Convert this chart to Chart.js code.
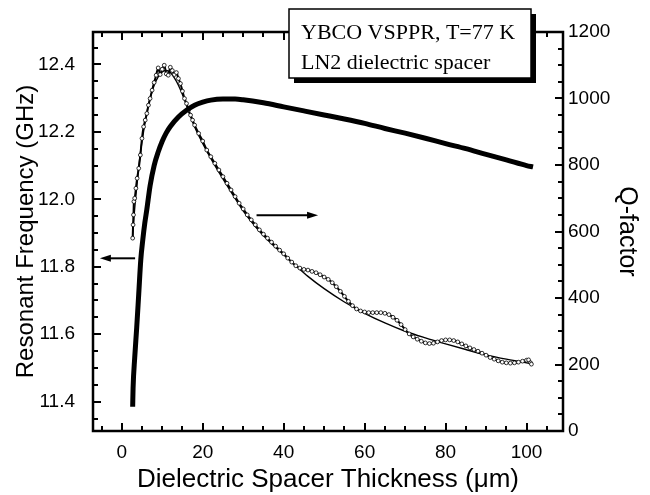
<!DOCTYPE html>
<html>
<head>
<meta charset="utf-8">
<script src="https://cdn.jsdelivr.net/npm/chart.js"></script>
<style>
html,body{margin:0;padding:0;background:#fff}
#wrap{width:650px;height:495px}
</style>
</head>
<body>
<div id="wrap"><canvas id="myChart" width="650" height="495"></canvas></div>
<script>
// spacer thickness (um) vs resonant frequency (GHz) - thick curve, left axis
var freqX = [2.7, 2.8, 3.2, 3.7, 4.2, 4.7, 5.2, 5.7, 6.2, 7, 8, 9, 10, 11, 12, 14, 16, 18, 20, 22, 25, 28, 30, 35, 40, 45, 50, 55, 60, 65, 70, 75, 80, 85, 90, 95, 100, 101.6]
var freqY = [11.385, 11.44, 11.53, 11.62, 11.72, 11.82, 11.88, 11.93, 11.97, 12.04, 12.1, 12.14, 12.172, 12.197, 12.216, 12.244, 12.264, 12.279, 12.288, 12.294, 12.297, 12.297, 12.295, 12.286, 12.274, 12.262, 12.25, 12.238, 12.225, 12.21, 12.196, 12.181, 12.165, 12.15, 12.133, 12.117, 12.1, 12.096]

// measured Q-factor (open circles), right axis
var qX = [2.7, 2.8, 2.9, 3.0, 3.2, 3.5, 3.8, 4.2, 4.6, 5.0, 5.4, 5.8, 6.2, 6.6, 7.0, 7.5, 8.0, 8.5, 9.0, 9.5, 10.0, 10.5, 11.0, 11.5, 12.0, 12.5, 13.0, 13.5, 14.0, 14.5, 15.0, 15.5, 16.0, 16.5, 17, 17.5, 18, 19, 20, 21, 22, 23, 24, 25, 26, 27, 28, 29, 30, 31, 32, 33, 34, 35, 36, 37, 38, 39, 40, 41, 42, 43, 44, 45, 46, 47, 48, 49, 50, 51, 52, 53, 54, 55, 56, 57, 58, 59, 60, 61, 62, 63, 64, 65, 66, 67, 68, 69, 70, 71, 72, 73, 74, 75, 76, 77, 78, 79, 80, 81, 82, 83, 84, 85, 86, 87, 88, 89, 90, 91, 92, 93, 94, 95, 96, 97, 98, 99, 100, 100.5, 101, 101.2]
var qY = [580, 620, 650, 690, 700, 730, 760, 790, 830, 880, 915, 935, 955, 980, 1000, 1025, 1048, 1070, 1092, 1072, 1088, 1100, 1074, 1070, 1094, 1084, 1072, 1078, 1060, 1045, 1022, 1000, 985, 965, 950, 935, 920, 895, 872, 845, 825, 805, 785, 765, 745, 725, 705, 685, 668, 650, 635, 620, 605, 592, 580, 568, 556, 544, 533, 520, 508, 497, 490, 486, 484, 480, 476, 470, 463, 456, 446, 434, 420, 405, 390, 377, 367, 361, 358, 356, 356, 356, 356, 354, 350, 342, 333, 320, 305, 292, 283, 276, 270, 265, 263, 264, 268, 272, 274, 274, 272, 268, 262, 256, 250, 245, 240, 234, 228, 221, 216, 211, 207, 205, 204, 205, 207, 210, 213, 214, 205, 201]

// fitted Q-factor (thin line), right axis
var fitX = [2.7, 3, 3.5, 4, 4.5, 5, 6, 7, 8, 9, 10, 11, 12, 13, 14, 15, 16, 18, 20, 22, 25, 28, 30, 33, 36, 40, 43, 46, 50, 55, 60, 65, 70, 75, 80, 85, 90, 95, 100, 101.5]
var fitY = [585, 640, 710, 770, 825, 870, 945, 1000, 1040, 1065, 1080, 1084, 1078, 1062, 1040, 1012, 980, 915, 865, 820, 758, 700, 662, 615, 575, 530, 497, 465, 428, 388, 354, 325, 300, 280, 262, 245, 229, 216, 205, 202]

var xLabels = [0, 20, 40, 60, 80, 100]
var fLabels = [11.4, 11.6, 11.8, 12.0, 12.2, 12.4]
var qLabels = [0, 200, 400, 600, 800, 1000, 1200]
var boxText = ["YBCO VSPPR, T=77 K", "LN2 dielectric spacer"]
// arrows: [x from, x to, frequency level]
var leftArrow = [3.3, -5.4, 11.825]
var rightArrow = [33.3, 48.5, 11.953]

function pts(xs, ys) {
    var out = []
    for (var i = 0; i < xs.length; i++) out.push({x: xs[i], y: ys[i]})
    return out
}
function isMajor(v, list) {
    for (var i = 0; i < list.length; i++) if (Math.abs(list[i] - v) < 1e-6) return true
    return false
}
function stepTicks(from, to, step) {
    var t = []
    var n = Math.round((to - from) / step)
    for (var i = 0; i <= n; i++) t.push({value: Math.round((from + i * step) * 1000) / 1000})
    return t
}

Chart.defaults.color = '#000'
Chart.defaults.font.family = '"Liberation Sans", Arial, sans-serif'

function drawArrow(ctx, x1, x2, y) {
    var dir = x2 > x1 ? 1 : -1
    ctx.beginPath()
    ctx.moveTo(x1, y)
    ctx.lineTo(x2 - dir * 8, y)
    ctx.stroke()
    ctx.beginPath()
    ctx.moveTo(x2, y)
    ctx.lineTo(x2 - dir * 11, y - 3.5)
    ctx.lineTo(x2 - dir * 11, y + 3.5)
    ctx.closePath()
    ctx.fill()
}

var framePlugin = {
    id: 'frame',
    afterDatasetsDraw: function(chart) {
        var ctx = chart.ctx, a = chart.chartArea
        var sx = chart.scales.x, sf = chart.scales.y, sq = chart.scales.y1
        ctx.save()
        ctx.strokeStyle = '#000'
        ctx.fillStyle = '#000'
        ctx.lineWidth = 2
        sx.ticks.forEach(function(t) {
            var p = Math.round(sx.getPixelForValue(t.value))
            var len = isMajor(t.value, xLabels) ? 8 : 5
            ctx.beginPath()
            ctx.moveTo(p, a.bottom); ctx.lineTo(p, a.bottom - len)
            ctx.moveTo(p, a.top); ctx.lineTo(p, a.top + len)
            ctx.stroke()
        })
        sf.ticks.forEach(function(t) {
            var p = Math.round(sf.getPixelForValue(t.value))
            var len = isMajor(t.value, fLabels) ? 8 : 5
            ctx.beginPath()
            ctx.moveTo(a.left, p); ctx.lineTo(a.left + len, p)
            ctx.stroke()
        })
        sq.ticks.forEach(function(t) {
            var p = Math.round(sq.getPixelForValue(t.value))
            var len = isMajor(t.value, qLabels) ? 8 : 5
            ctx.beginPath()
            ctx.moveTo(a.right, p); ctx.lineTo(a.right - len, p)
            ctx.stroke()
        })
        ctx.lineWidth = 2.5
        ctx.strokeRect(a.left, a.top, a.right - a.left, a.bottom - a.top)

        // arrows pointing to the axis each curve belongs to
        ctx.lineWidth = 2
        drawArrow(ctx, sx.getPixelForValue(leftArrow[0]), sx.getPixelForValue(leftArrow[1]), sf.getPixelForValue(leftArrow[2]))
        drawArrow(ctx, sx.getPixelForValue(rightArrow[0]), sx.getPixelForValue(rightArrow[1]), sf.getPixelForValue(rightArrow[2]))
        ctx.restore()
    },
    afterDraw: function(chart) {
        // caption box with drop shadow
        var ctx = chart.ctx
        var bx = 289, by = 9, bw = 242, bh = 69
        ctx.save()
        ctx.fillStyle = '#000'
        ctx.fillRect(bx + 5, by + 5, bw, bh)
        ctx.fillStyle = '#fff'
        ctx.fillRect(bx, by, bw, bh)
        ctx.strokeStyle = '#000'
        ctx.lineWidth = 1.5
        ctx.strokeRect(bx, by, bw, bh)
        ctx.fillStyle = '#000'
        ctx.font = '22px "Liberation Serif", "Times New Roman", serif'
        ctx.textBaseline = 'alphabetic'
        ctx.fillText(boxText[0], bx + 12, by + 30)
        ctx.fillText(boxText[1], bx + 12, by + 60)
        ctx.restore()
    }
}

var myChart = document.getElementById("myChart").getContext('2d')
var chart = new Chart(myChart, {
    type: 'line',
    data: {
        datasets: [
            {
                label: "Resonant Frequency",
                data: pts(freqX, freqY),
                yAxisID: 'y',
                borderColor: '#000',
                borderWidth: 5,
                pointRadius: 0,
                cubicInterpolationMode: 'monotone',
                fill: false
            },
            {
                label: "Q measured",
                data: pts(qX, qY),
                yAxisID: 'y1',
                borderColor: '#000',
                borderWidth: 2,
                pointRadius: 1.9,
                pointBorderWidth: 0.8,
                pointBorderColor: '#000',
                pointBackgroundColor: '#fff',
                cubicInterpolationMode: 'monotone',
                fill: false
            },
            {
                label: "Q fit",
                data: pts(fitX, fitY),
                yAxisID: 'y1',
                borderColor: '#000',
                borderWidth: 1.4,
                pointRadius: 0,
                cubicInterpolationMode: 'monotone',
                fill: false
            }
        ]
    },
    options: {
        responsive: false,
        animation: false,
        layout: {padding: {top: 32, left: 0, right: 0, bottom: 0}},
        plugins: {legend: {display: false}, tooltip: {enabled: false}},
        scales: {
            x: {
                type: 'linear',
                min: -7.1,
                max: 109,
                grid: {display: false, drawTicks: false},
                border: {display: false},
                afterBuildTicks: function(s) { s.ticks = stepTicks(-5, 105, 5) },
                afterFit: function(s) { s.height = 64 },
                ticks: {
                    autoSkip: false,
                    maxRotation: 0,
                    padding: 10,
                    font: {size: 19},
                    callback: function(v) { return isMajor(v, xLabels) ? String(v) : '' }
                },
                title: {
                    display: true,
                    text: 'Dielectric Spacer Thickness (\u03bcm)',
                    font: {size: 26},
                    padding: {top: 0, bottom: 0}
                }
            },
            y: {
                type: 'linear',
                position: 'left',
                min: 11.313,
                max: 12.496,
                grid: {display: false, drawTicks: false},
                border: {display: false},
                afterBuildTicks: function(s) { s.ticks = stepTicks(11.35, 12.45, 0.05) },
                afterFit: function(s) { s.width = 93 },
                ticks: {
                    autoSkip: false,
                    padding: 18,
                    font: {size: 19},
                    callback: function(v) { return isMajor(v, fLabels) ? v.toFixed(1) : '' }
                },
                title: {
                    display: true,
                    text: 'Resonant Frequency (GHz)',
                    font: {size: 24},
                    padding: {top: 12, bottom: 0}
                }
            },
            y1: {
                type: 'linear',
                position: 'right',
                min: 0,
                max: 1200,
                grid: {display: false, drawTicks: false},
                border: {display: false},
                afterBuildTicks: function(s) { s.ticks = stepTicks(0, 1200, 50) },
                afterFit: function(s) { s.width = 87 },
                ticks: {
                    autoSkip: false,
                    padding: 5,
                    font: {size: 19},
                    callback: function(v) { return isMajor(v, qLabels) ? String(v) : '' }
                },
                title: {
                    display: true,
                    text: 'Q-factor',
                    font: {size: 25},
                    padding: {top: 8, bottom: 0}
                }
            }
        }
    },
    plugins: [framePlugin]
})
</script>
</body>
</html>
